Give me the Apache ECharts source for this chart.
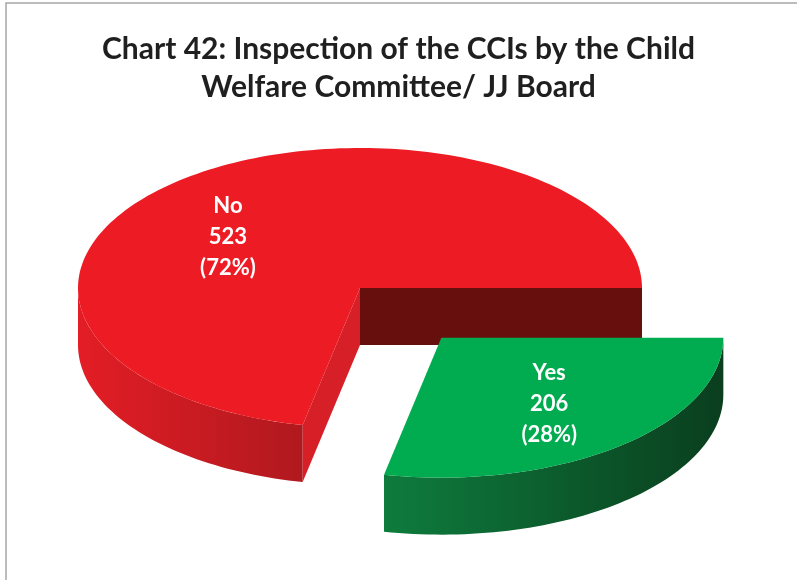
<!DOCTYPE html>
<html>
<head>
<meta charset="utf-8">
<script src="https://cdn.jsdelivr.net/npm/echarts@6/dist/echarts.min.js"></script>
<style>
  html, body { margin: 0; padding: 0; background: #ffffff; }
  #chart { width: 797px; height: 580px; }
</style>
</head>
<body>
<div id="chart"></div>
<script>
// Chart content
const titleLines = ['Chart 42: Inspection of the CCIs by the Child', 'Welfare Committee/ JJ Board'];
const categories = ['No', 'Yes'];
const counts = [523, 206];
const percents = [72, 28];
const explodedSlices = [false, true];

const total = counts.reduce((a, b) => a + b, 0);

// Geometry of the tilted pie (pixels)
const PIE = { cx: 360, cy: 288, rx: 282, ry: 140, depth: 57, explode: 0.457 };
const FONT = 'Lato, "Open Sans", sans-serif';

// Per-slice look: top face, outer wall gradient, cut-face colours, label placement
const sliceLook = [
  { top: '#ED1C24', wall: ['#E31D25', '#B0191F'], startFace: '#660F0D', endFace: '#D71F27', label: [0.742, 0.47] },
  { top: '#00AC4F', wall: ['#0E7C3D', '#0A3E1E'], startFace: '#0A4D25', endFace: '#0A4D25', label: [0.606, 0.608] }
];

function renderSlice(params, api) {
  const i = params.dataIndex;
  const value = api.value(0);
  let start = 0;
  for (let k = 0; k < i; k++) start += counts[k] / total * 360;
  const end = start + value / total * 360;
  const midRad = (start + end) / 2 * Math.PI / 180;
  const look = sliceLook[i];

  let ox = 0, oy = 0;
  if (explodedSlices[i]) {
    ox = Math.cos(midRad) * PIE.rx * PIE.explode;
    oy = -Math.sin(midRad) * PIE.ry * PIE.explode;
  }
  const cx = PIE.cx + ox, cy = PIE.cy + oy;
  const pt = (deg, dz) => {
    const r = deg * Math.PI / 180;
    return [cx + PIE.rx * Math.cos(r), cy - PIE.ry * Math.sin(r) + (dz || 0)];
  };
  const arc = (a1, a2, dz) => {
    const n = Math.max(2, Math.ceil(Math.abs(a2 - a1) / 1.5));
    const pts = [];
    for (let j = 0; j <= n; j++) pts.push(pt(a1 + (a2 - a1) * j / n, dz));
    return pts;
  };
  const children = [];

  // cut faces that turn toward the viewer
  const faceAt = (deg, fill) => ({
    type: 'polygon',
    shape: { points: [[cx, cy], pt(deg, 0), pt(deg, PIE.depth), [cx, cy + PIE.depth]] },
    style: { fill: fill }
  });
  if (Math.sin((start - 90) * Math.PI / 180) < 0) children.push(faceAt(start, look.startFace));
  if (Math.sin((end + 90) * Math.PI / 180) < 0) children.push(faceAt(end, look.endFace));

  // outer wall on the near half of the rim
  const w1 = Math.max(start, 180), w2 = Math.min(end, 360);
  if (w2 > w1) {
    const pts = arc(w1, w2, 0).concat(arc(w2, w1, PIE.depth));
    children.push({
      type: 'polygon',
      shape: { points: pts },
      style: {
        fill: new echarts.graphic.LinearGradient(0, 0, 1, 0, [
          { offset: 0, color: look.wall[0] },
          { offset: 1, color: look.wall[1] }
        ])
      }
    });
  }

  // top face
  children.push({
    type: 'polygon',
    shape: { points: [[cx, cy]].concat(arc(start, end, 0)) },
    style: { fill: look.top }
  });

  // data label
  children.push({
    type: 'text',
    x: cx + Math.cos(midRad) * PIE.rx * look.label[0],
    y: cy - Math.sin(midRad) * PIE.ry * look.label[1],
    style: {
      text: categories[i] + '\n' + value + '\n(' + percents[i] + '%)',
      fill: '#ffffff',
      fontSize: 22,
      fontWeight: 'bold',
      fontFamily: FONT,
      align: 'center',
      verticalAlign: 'middle',
      lineHeight: 31
    }
  });

  return { type: 'group', children: children };
}

const chart = echarts.init(document.getElementById('chart'), null, { renderer: 'canvas' });
chart.setOption({
  backgroundColor: '#ffffff',
  animation: false,
  title: {
    text: titleLines.join('\n'),
    left: 'center',
    top: 25,
    textStyle: {
      fontFamily: FONT,
      fontSize: 30,
      fontWeight: 'bold',
      color: '#1f1f1f',
      lineHeight: 38
    }
  },
  graphic: [{
    type: 'rect',
    shape: { x: 6, y: 3, width: 900, height: 700 },
    style: { fill: null, stroke: '#a6a6a6', lineWidth: 1.5 },
    silent: true
  }],
  series: [{
    type: 'custom',
    coordinateSystem: 'none',
    renderItem: renderSlice,
    data: counts.map((v, i) => ({ name: categories[i], value: v }))
  }]
});
</script>
</body>
</html>
